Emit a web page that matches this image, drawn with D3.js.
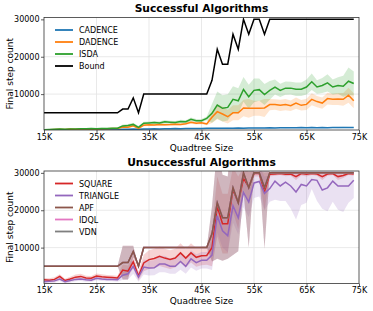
<!DOCTYPE html>
<html lang="en">
<head>
<meta charset="UTF-8">
<title>Successful / Unsuccessful Algorithms</title>
<script src="https://d3js.org/d3.v7.min.js"></script>
<style>
  body { margin: 0; background: #fff; font-family: 'DejaVu Sans', sans-serif; }
  .grid line { stroke: #e3e3e3; stroke-width: 0.8; }
  .tick text { font-family: 'DejaVu Sans', sans-serif; font-size: 8px; fill: #000; }
</style>
</head>
<body>
<script>
// quadtree size in K
const sizes = [15,16,17,18,19,20,21,22,23,24,25,26,27,28,29,30,31,32,33,34,35,36,37,38,39,40,41,42,43,44,
               45,46,47,48,49,50,51,52,53,54,55,56,57,58,59,60,61,62,63,64,65,66,67,68,69,70,71,72,73,74];
const xTicks = [15, 25, 35, 45, 55, 65, 75];
const yTicks = [10000, 20000, 30000];

// step bound (also where APF / IDQL / VDN end up)
const bound = [5000,5000,5000,5000,5000,5000,5000,5000,5000,5000,5000,5000,5000,5000,5000,
  6000,6000,9000,5000,
  10000,10000,10000,10000,10000,10000,10000,10000,10000,10000,10000,10000,10000,
  13700,22000,18000,18000,26000,22000,30000,26000,30000,30000,26000,
  30000,30000,30000,30000,30000,30000,30000,30000,30000,30000,30000,30000,30000,30000,30000,30000,30000];

const cadence = [350,380,400,420,400,450,430,470,480,500,480,520,500,550,530,
  600,620,650,600,680,700,720,700,750,720,780,760,800,780,820,800,850,
  850,880,860,900,880,920,900,950,930,960,940,980,950,1000,980,1020,990,1050,1000,1100,1020,1050,1000,1080,1040,1100,1060,1080];
const cadenceSd = [80,80,80,80,80,80,80,80,80,80,80,80,80,80,80,
  100,100,100,100,100,100,100,100,100,100,100,100,100,100,100,100,100,
  150,150,150,150,150,150,150,150,150,150,150,150,150,150,150,150,150,150,150,150,150,150,150,150,150,150,150,150];

const dadence = [450,500,550,600,550,650,620,700,680,720,700,750,720,780,800,
  1200,1150,1500,850,1700,1800,1750,1900,1800,1850,1950,1900,2100,2450,2200,2350,2000,
  3800,5300,4670,3950,5000,5000,6300,6200,6200,6200,6300,7200,7200,7000,7200,6900,7600,7000,7250,8600,8000,7600,8800,8600,8700,8600,9700,8200];
const dadenceSd = [100,100,100,100,100,100,100,100,100,100,100,100,100,100,100,
  250,250,300,200,300,300,300,300,300,300,300,300,350,400,350,400,350,
  1500,2000,2000,1800,2000,2000,2200,2500,2000,2000,2400,1500,1400,1500,1500,1400,1500,1400,1500,1600,1500,1500,1600,1500,1600,1700,2000,2000];

const isda = [500,550,600,650,600,700,680,750,720,780,760,820,800,850,900,
  1500,1600,1900,1100,2200,2300,2400,2300,2600,2500,2400,2700,2600,3250,2900,2900,3500,
  4850,7070,6200,6450,8590,8200,11250,9300,11000,11200,9900,11000,11900,11000,11600,11600,11300,11300,11900,13300,11900,12300,13000,11900,12300,12100,13450,12850];
const isdaSd = [150,150,150,150,150,150,150,150,150,150,150,150,150,150,150,
  400,400,450,350,400,400,400,400,450,400,400,450,400,500,450,450,500,
  2500,3600,3500,3500,3500,3400,3300,3200,3200,3000,2800,2500,2000,1800,1800,1700,1800,1800,2000,2200,1800,2000,2300,2000,2200,2800,3700,3200];

const square = [1400,1300,1500,2300,1200,1600,2100,2300,1900,1800,2400,2200,2100,2000,1900,
  4000,3700,6200,2400,5900,6800,7100,7700,7200,6800,7200,8600,7200,8600,7400,7800,7900,
  10000,21000,16400,16400,25500,22000,28500,26200,29800,29800,25000,29600,29700,29800,29600,29700,29000,29800,29600,29800,29700,29000,29700,29800,29000,29300,29800,29700];
const squareSd = [500,500,600,600,500,600,700,700,600,600,700,700,600,600,600,
  1500,1500,1800,1200,2200,2500,2600,2600,2500,2500,2500,2600,2500,2600,2500,2500,2500,
  5000,8000,8000,8000,6000,7000,3000,4000,800,800,5000,600,500,400,500,500,900,500,600,400,500,900,500,400,900,700,400,500];

const triangle = [900,1000,1100,1600,900,1200,1500,1600,1400,1300,1800,1600,1500,1500,1400,
  2600,3000,5000,2100,4800,4550,4600,5600,5600,5000,5000,6300,5000,7000,6000,6600,6600,
  8000,18500,14500,13200,21200,18000,24800,22200,27300,27700,24500,25800,27800,26500,27500,26500,24900,26900,26500,28200,28000,25400,26000,27800,26500,26500,26500,28000];
const triangleSd = [500,500,500,500,500,500,500,500,500,500,500,500,500,500,500,
  1200,1500,2000,1200,2000,2000,2000,2200,2200,2000,2000,2200,2000,2300,2200,2200,2200,
  4000,4500,4500,4500,4500,4500,4000,4000,4000,4000,4500,3500,5000,4000,5000,6000,7400,5500,4500,2500,5500,5000,6300,5500,6400,7000,4500,4700];

// spread for the runs that hit the bound (APF, IDQL, VDN)
const failSd = [0,0,0,0,0,0,0,0,0,0,0,0,0,0,0,
  4500,4500,1500,0,
  0,0,0,0,0,0,0,0,0,0,0,0,0,
  7400,15000,11500,11000,18000,13000,5000,16000,0,0,16300,
  0,0,0,0,0,0,0,0,0,0,0,0,0,0,0,0,0];

const width = 373, height = 311;
const left = 44, right = 359;

const panels = [
  { title: 'Successful Algorithms', top: 17.5, bottom: 130, series: [
      { name: 'CADENCE', mean: cadence, sd: cadenceSd, color: '#1f77b4' },
      { name: 'DADENCE', mean: dadence, sd: dadenceSd, color: '#ff7f0e' },
      { name: 'ISDA', mean: isda, sd: isdaSd, color: '#2ca02c' },
      { name: 'Bound', mean: bound, sd: null, color: '#000000' }
  ]},
  { title: 'Unsuccessful Algorithms', top: 171, bottom: 283.5, series: [
      { name: 'SQUARE', mean: square, sd: squareSd, color: '#d62728' },
      { name: 'TRIANGLE', mean: triangle, sd: triangleSd, color: '#9467bd' },
      { name: 'APF', mean: bound, sd: failSd, color: '#8c564b', order: 4 },
      { name: 'IDQL', mean: bound, sd: failSd, color: '#e377c2', order: 2 },
      { name: 'VDN', mean: bound, sd: failSd, color: '#7f7f7f', order: 3 }
  ]}
];

const svg = d3.select('body').append('svg')
  .attr('width', width)
  .attr('height', height);

const x = d3.scaleLinear().domain([15, 75]).range([left, right]);

panels.forEach((p, pi) => {
  const y = d3.scaleLinear().domain([400, 30500]).range([p.bottom, p.top]);
  const g = svg.append('g');

  // grid
  const grid = g.append('g').attr('class', 'grid');
  grid.selectAll('.gx').data(xTicks.slice(1, -1)).join('line')
    .attr('x1', d => x(d)).attr('x2', d => x(d))
    .attr('y1', p.top).attr('y2', p.bottom);
  grid.selectAll('.gy').data(yTicks.slice(0, 2)).join('line')
    .attr('x1', left).attr('x2', right)
    .attr('y1', d => y(d)).attr('y2', d => y(d));

  svg.append('clipPath').attr('id', 'clip' + pi)
    .append('rect')
    .attr('x', left).attr('y', p.top)
    .attr('width', right - left).attr('height', p.bottom - p.top);

  const plot = g.append('g').attr('clip-path', `url(#clip${pi})`);

  // draw order (the brown APF line ends up on top)
  const drawList = p.series.map((s, i) => ({ s, o: s.order !== undefined ? s.order : i }))
    .sort((a, b) => a.o - b.o).map(d => d.s);

  // shaded bands first
  drawList.forEach(s => {
    if (!s.sd) return;
    const area = d3.area()
      .x((d, i) => x(sizes[i]))
      .y0((d, i) => y(s.mean[i] - s.sd[i]))
      .y1((d, i) => y(s.mean[i] + s.sd[i]));
    plot.append('path')
      .attr('d', area(s.mean))
      .attr('fill', s.color)
      .attr('fill-opacity', 0.2);
  });

  // mean lines
  drawList.forEach(s => {
    const line = d3.line().x((d, i) => x(sizes[i])).y(d => y(d));
    plot.append('path')
      .attr('d', line(s.mean))
      .attr('fill', 'none')
      .attr('stroke', s.color)
      .attr('stroke-width', 1.5)
      .attr('stroke-linejoin', 'miter');
  });

  // frame
  g.append('rect')
    .attr('x', left).attr('y', p.top)
    .attr('width', right - left).attr('height', p.bottom - p.top)
    .attr('fill', 'none').attr('stroke', '#333').attr('stroke-width', 0.8);

  // axes
  const xAxis = g.append('g')
    .attr('transform', `translate(0,${p.bottom})`)
    .call(d3.axisBottom(x).tickValues(xTicks).tickFormat(d => d + 'K').tickSize(3).tickPadding(1));
  const yAxis = g.append('g')
    .attr('transform', `translate(${left},0)`)
    .call(d3.axisLeft(y).tickValues(yTicks).tickFormat(d3.format('d')).tickSize(3).tickPadding(1.5));
  [xAxis, yAxis].forEach(a => {
    a.select('.domain').remove();
    a.selectAll('.tick line').attr('stroke', '#333').attr('stroke-width', 0.8);
  });

  // title + labels
  g.append('text')
    .attr('x', (left + right) / 2).attr('y', p.top - 5.5)
    .attr('text-anchor', 'middle')
    .style('font-size', '10.7px').style('font-weight', 'bold')
    .text(p.title);
  g.append('text')
    .attr('x', (left + right) / 2).attr('y', p.bottom + 20.5)
    .attr('text-anchor', 'middle')
    .style('font-size', '9px')
    .text('Quadtree Size');
  g.append('text')
    .attr('transform', `translate(13,${(p.top + p.bottom) / 2}) rotate(-90)`)
    .attr('text-anchor', 'middle')
    .style('font-size', '9px')
    .text('Final step count');

  // legend
  const leg = g.append('g');
  p.series.forEach((s, i) => {
    const ly = p.top + 12.5 + i * 12;
    leg.append('line')
      .attr('x1', 55).attr('x2', 73)
      .attr('y1', ly).attr('y2', ly)
      .attr('stroke', s.color).attr('stroke-width', 1.8);
    leg.append('text')
      .attr('x', 79).attr('y', ly + 3)
      .style('font-size', '8px')
      .text(s.name);
  });
});
</script>
</body>
</html>
